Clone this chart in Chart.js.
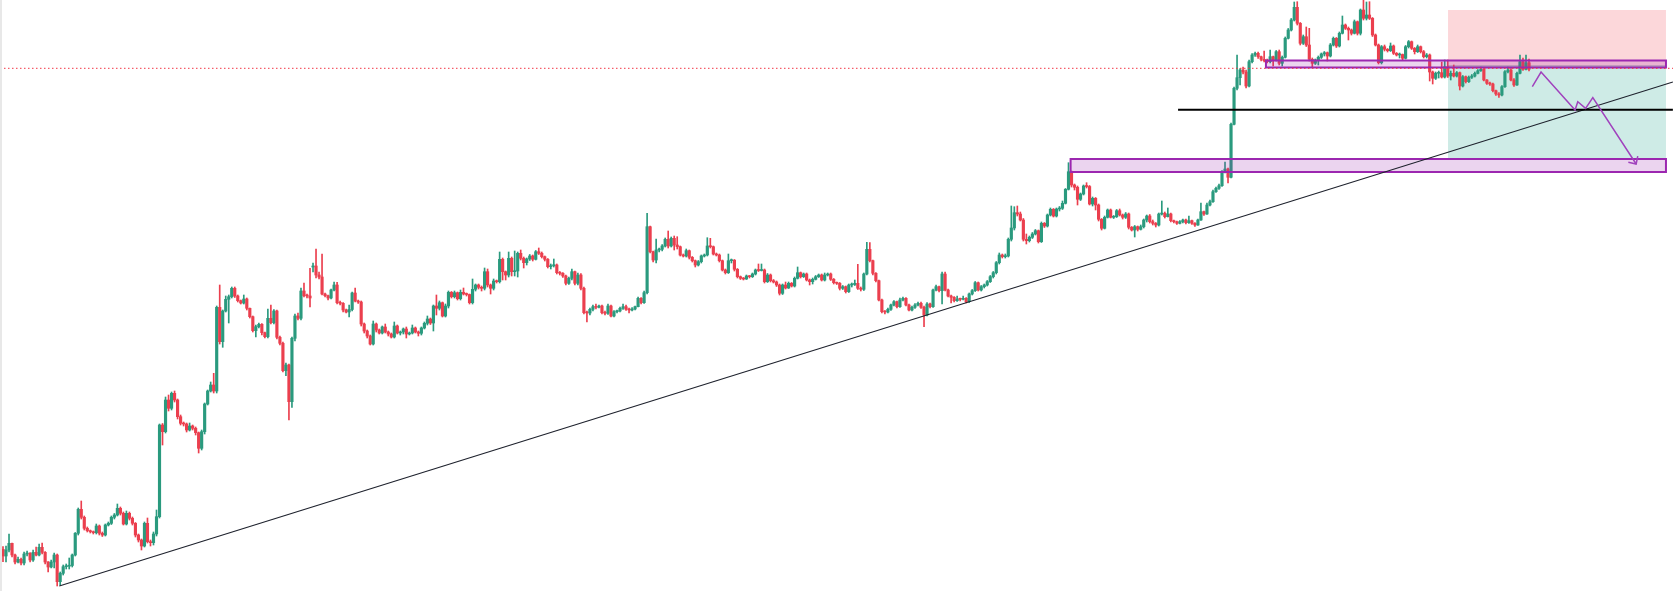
<!DOCTYPE html>
<html>
<head>
<meta charset="utf-8">
<title>Price chart</title>
<script src="https://cdn.jsdelivr.net/npm/chart.js@4.4.1/dist/chart.umd.min.js"></script>
<style>
  html, body { margin: 0; padding: 0; background: #ffffff; }
  #wrap { position: relative; width: 1673px; height: 591px; overflow: hidden; }
  #edge { position: absolute; left: 0; top: 0; width: 2px; height: 591px; background: #e8e8e8; }
</style>
</head>
<body>
<div id="wrap">
  <canvas id="chart"></canvas>
  <div id="edge"></div>
</div>
<script>
// candles, one per bar index (0 = oldest)
const opens = [
  50.7,44,50,56.7,45,38,40.7,37,46,46.7,
  40,47.7,45,52.7,47.7,38,33,38,45,18.3,
  26.7,33.3,33.8,34.5,45,66.7,90.7,82.7,71.7,69.3,
  68.3,67.3,74,66.7,65,75,76.7,82.7,85,91.7,
  86.7,76,86.7,81.7,76.7,65,60,54,76.7,58.3,
  57.3,66,83.3,175,168.3,200,191.7,206.7,200,183.3,
  176.7,176,170,174,171.7,167.3,151.7,168.3,196,209,
  215,209,292.7,258.3,289,300.7,303.3,311.7,304,299.3,
  297,301,291.7,283.3,269.3,273.3,275.7,267.3,263.3,281.7,
  277.3,289,262.7,256.7,229.3,235,198.3,261.7,284,281.7,
  309,304.3,304,333,334,325,323,306,304.3,302,
  310,315,297.3,296.7,290,288,290.5,307,299,298,
  276,269,264,256,276,270,267,273,268,266,
  263,274,267,268,271,266,267,272,268,266.7,
  272,276.7,281,277,294,291.7,297.3,284,294,307.7,
  303.3,307.3,301.3,307.7,306,305.5,297.3,310.7,315,312.7,
  311.7,328.3,315,311.7,319,318.3,340.7,328.3,325,341.7,
  328.3,329,346.7,341.7,337.3,341,344,340.7,348.3,346.7,
  343.3,340.7,333.3,334.3,335,327.3,326.7,324,316.7,321.7,
  328.3,316.7,325,311.7,287.3,287,290.7,293.3,292.7,294,
  287.3,286.7,294,284,288.3,289,291.7,293.3,290.7,290,
  291,293.3,301.7,297.3,307.3,373.3,348.3,340,350,350.7,
  354,360.7,354,361.7,355,353.3,345,344,349.3,342.7,
  339.3,335,338.3,344,345,354,353.3,346,345,339.3,
  330,327.3,339.3,339.8,330.7,323.3,321.7,321,324,323.3,
  326,330,329.5,330,318.3,325,319.3,318,315,306.7,
  315,312,316.7,314,321.7,327.3,323.3,326,320,318.3,
  320.7,323.3,325,320,325,326,320.7,317.3,316.7,311.7,
  313.3,308.3,315,315.5,316.7,311.7,310.7,326,350.7,339.3,
  326.7,319.3,300,288.3,288,290.7,295,298.3,293.3,300,
  301.7,295,290,292.7,295,296.7,292.7,285,296,293.3,
  310,313.3,309.3,326,310,304,302.7,299.3,301,300.7,
  301.7,298.3,306,309.3,317.3,310,313.3,315,318.3,323.3,
  327.3,337.3,345,343.3,344,360.7,372,387.3,386,380,
  360.7,359.3,362.7,366,369.3,358.3,376.7,374,385,390.7,
  384,391,391.7,396.7,410.7,428.3,415,412.7,400.7,406,
  414,413.5,396,401.7,395,380.7,371.7,382.7,390,382.7,
  383.3,389.3,385,382.7,386,372.7,370,373.3,370.7,373.3,
  380,384,378.3,376.7,375,386,386.7,383.3,386,379.3,
  378.3,376.7,378.3,380,377.3,379.3,376.7,375,380,388.3,
  386,395,398.3,408.3,411.7,414.3,428.3,431,422.7,475.7,
  511.7,522.3,530,528,514,538.3,545,546.7,543.3,540.7,
  539.3,538.3,543.3,540,548.3,536.7,542.7,561.7,570,580,
  592.7,576.7,556.7,563.3,555,540.7,536.7,540,542.7,546,
  547.3,544,555,561.7,554,566.7,575,571.7,570,566.7,
  578.3,566.7,590,581.7,585,581.7,565,555,537.3,553.3,
  550.7,549.3,554,546.7,545,545.5,541.7,553.3,558.3,551.7,
  548.3,553.3,548.3,543.3,545,528,521.7,526.7,527.3,523,
  533.3,524,526.7,524,527.3,514,523.3,518.3,522.7,524,
  526.7,529.3,530.7,520,516.7,516,509.3,506,505,513.3,
  528.3,530,520,515,526.7,538.3,530.7,537.3
];

const highs = [
  53.3,54,66,57,46,43,42,48,49,47.5,
  50,53,56,57,48.5,38.5,40,47,46,28,
  35,36,42,46,67.5,92,99,84,73,70,
  69,76,75,68,76,78,84,86.5,96,93,
  88,89,88,83,77.5,66,61,78,82,60,
  68,90,176,176.5,203,205,208,209,201,185,
  178,177,177,175,173,168,170,197,210,218,
  226.7,294,315,290,304,305,313,313,305,300,
  305,302,292,284,275,277,276.5,268,291,295,
  290.5,290,264,258,237,236,263,286,287,312,
  317,306,331.7,337,351,328,346,307,305,311,
  318,317.7,299,297.5,291,295,308,312,300,299,
  277,270,265,279,277,271,274,276,269,267,
  278,275,269,272,273,268,275,273,269,273,
  278,284,282,295,305,299,298,296,309,308.5,
  309,308,310,312,307,306,321,316,316,314,
  332,331,316,321,320,348,342,329,348,343,
  349,348,350,343,342,345.5,345,349.5,352,348,
  344,341.5,336,341,336,328.5,327.5,325,323,331,
  329,327,326.5,313,289,292,295,296,295,295,
  289,296,295,289.5,290,293,296,295,292,292.5,
  294,303,302.5,309,386.7,374,349,361,352,355.5,
  362,369,363,364,363.3,354,346,351,350,343.5,
  340,339.5,345,346,362.3,361.7,354,347,346,340,
  331,346,341,340.5,331.5,324,322.5,325,324.5,327,
  331,336,336,331,326.5,326,320.5,319,316,316,
  318,318,317.5,323,333,328,327,327,321,322,
  324.5,326,326,327,327,327,321.5,318,317.5,314.5,
  314,316,317,320,335.7,313,327,357.7,357.3,340,
  327.5,320,301,289.5,292,296,299.5,299,302,303,
  302.5,296,294,296.5,298,298,294,297.5,297,311,
  315,314,328,328,311,305,303.5,304,302,304,
  302.5,307,310.5,318.5,318,314.5,316,319.5,324.5,328.5,
  338.5,347,346,346,362,394,393.3,394,388,381.5,
  366,364,367.5,370.5,370,378,377.5,386,392,391.5,
  392,393.5,399,411.5,437.3,429,416,414,407,415,
  417.3,414.5,403,402.5,396,381.5,384,391,391,384.5,
  390.5,391,386,387.5,387,373.5,374.5,374,375,381,
  385,385.5,380,377.5,387,399,388,392,387,380,
  379,379.5,381,381,384,380,377.5,381,397,389,
  397,400,410,413,416,429.5,438,432,477,513,
  545,531.5,533,530,540,546.5,548,548,544,549,
  541,550,544,549.5,550,544,563,571.5,581.5,598,
  598.3,577.5,565,573,571.7,542,541,544,547,548.5,
  548,556.5,563,562.5,568,584,576,573,571,580,
  579,591,600,598,598.3,582.5,566,556,554.5,555,
  551.5,557,555,547.5,547,546,554.5,559.5,559,552.5,
  555,554,549.5,546.5,546,529,528,529,538,540,
  540,529,535,528.5,528,524.5,524,524,525.5,528,
  530.5,533,531.5,520.5,518,517,510,507.5,514.5,529.5,
  533,531.5,521.5,528,545,542,545,541
];

const lows = [
  38.3,38,48,43,36,37,35,35,44,38,
  38.5,44,44,46,36,28,32,32,14,15,
  25,31,31,33,44,65,81,70,68,67,
  66,66,65,63.5,64,74,75.5,81,84,85,
  75,75,80,75,63,58,50,53,57,54,
  55,64,82,155,167,189,190,198,181,175,
  174,168,169,170,165,147,150,166,195,208,
  207,207,256,252.7,288,277,302,302.5,298,296,
  296,290,282,268,263,272,265,262,262,276,
  276,261,255,228,224.3,180,192.7,259,280,280,
  303,302,293,328,322,321,305,303,300,301,
  309,296,295,288,287,283,289,298,296.5,274,
  267,262,255,255,268,266,266,267,264,262,
  262,266,265,266,262,265,266,267,264,265,
  271,275,275.5,269,285,290,283,283,292,302,
  302,300,300,305,304,296,296,309,311,309,
  310,313,306,310,317,317,320,320,323,324,
  324,323,340,332,335,339.5,339,340,345.5,342,
  339,332,331,333,326,325,322.5,315,315.5,320,
  315,315,310,286,278,285,289,291,292,286,
  285,285.5,283,283,287,288,290.5,289.5,287,289,
  290,293,296,296.5,306,347,338,337,348,349,
  353,352,353,350,351,344,343,343,341,338,
  333,334,337,343,344,352,345,344,338,329,
  326,326.5,337,329,322,320.5,320,320.5,322,322.5,
  325,328.5,329,317,317.5,318,317,313.5,305,305.5,
  311,311.5,313,313,321,322,322.5,319,315,316,
  320,322.5,319,319,324,319.5,316,315.5,310,310.5,
  307,307.5,313,314.5,310.5,309,309.5,325,338,325,
  318,299,287,286,287,289.5,294,292,292.5,299,
  294,289,289,291.5,294,291.5,273.3,284,292,292.5,
  309,308,296,309,303,297,298,298.5,299,300,
  297,297.5,305,308.5,309,309,312,314,317.5,322,
  326,336,342,342,343,359,370,384,379,359,
  356,358,361.5,365,357,357.5,372.5,373,384,383,
  383,389,390.5,396,410,413,410,395,399.5,405,
  412,395,394,390,379,370,371,382,382,381.5,
  382.5,384,381,381.5,371,369,363,369,370,372,
  378,377,375,373,374,385,382,383,378,377,
  375.5,376,377,376,376.5,375.5,373.5,374.5,379.5,384.5,
  385.5,394,397.5,407.5,410.5,413.5,427,417,422,475,
  510,515,526,512,513,537,543.5,541.5,539,538,
  537,537,534,539,535,534,542,561,569,579,
  575,555,555.5,553.5,539,533,535.5,535,541.5,544,
  539,543,554,552.5,553,566,570.5,560,565,566,
  565,565,580,580,580.5,563.5,554,536,536,549,
  548,548.5,545.5,544,542,540,541,552,550.5,546,
  547.5,547,542,542,519,516,520.5,522,522,522,
  522.5,520,523,523,510,513,517,517.5,521.5,523,
  526,528.5,519,515.5,514.5,508,504.5,502.7,504,512.5,
  527,519,513.5,514.5,526,529.5,530,529
];

const closes = [
  44,50,56.7,45,38,40.7,37,46,46.7,40,
  47.7,45,52.7,47.7,38,33,38,45,18.3,26.7,
  33.3,33.8,34.5,45,66.7,90.7,82.7,71.7,69.3,68.3,
  67.3,74,66.7,65,75,76.7,82.7,85,91.7,86.7,
  76,86.7,81.7,76.7,65,60,54,76.7,58.3,57.3,
  66,83.3,175,168.3,200,191.7,206.7,200,183.3,176.7,
  176,170,174,171.7,167.3,151.7,168.3,196,209,215,
  209,292.7,258.3,289,300.7,303.3,311.7,304,299.3,297,
  301,291.7,283.3,269.3,273.3,275.7,267.3,263.3,281.7,277.3,
  289,262.7,256.7,229.3,235,198.3,261.7,284,281.7,309,
  304.3,304,302,334,325,323,306,304.3,302,310,
  315,297.3,296.7,290,288,290.5,307,299,298,276,
  269,264,256,276,270,267,273,268,266,263,
  274,267,268,271,266,267,272,268,266.7,272,
  276.7,281,277,294,291.7,297.3,284,294,307.7,303.3,
  307.3,301.3,307.7,306,305.5,297.3,310.7,315,312.7,311.7,
  328.3,315,311.7,319,318.3,340.7,328.3,325,341.7,328.3,
  329,346.7,341.7,337.3,341,344,340.7,348.3,346.7,343.3,
  340.7,333.3,334.3,335,327.3,326.7,324,316.7,321.7,328.3,
  316.7,325,311.7,287.3,287,290.7,293.3,292.7,294,287.3,
  286.7,294,284,288.3,289,291.7,293.3,290.7,290,291,
  293.3,301.7,297.3,307.3,373.3,348.3,340,350,350.7,354,
  360.7,354,361.7,355,353.3,345,344,349.3,342.7,339.3,
  335,338.3,344,345,354,353.3,346,345,339.3,330,
  327.3,339.3,339.8,330.7,323.3,321.7,321,324,323.3,326,
  330,329.5,330,318.3,325,319.3,318,315,306.7,315,
  312,316.7,314,321.7,327.3,323.3,326,320,318.3,320.7,
  323.3,325,320,325,326,320.7,317.3,316.7,311.7,313.3,
  308.3,315,315.5,316.7,311.7,310.7,326,350.7,339.3,326.7,
  319.3,300,288.3,288,290.7,295,298.3,293.3,300,301.7,
  295,290,292.7,295,296.7,292.7,285,296,293.3,310,
  313.3,309.3,326,310,304,302.7,299.3,301,300.7,301.7,
  298.3,306,309.3,317.3,310,313.3,315,318.3,323.3,327.3,
  337.3,345,343.3,344,360.7,372,387.3,386,380,360.7,
  359.3,362.7,366,369.3,358.3,376.7,374,385,390.7,384,
  391,391.7,396.7,410.7,428.3,415,412.7,400.7,406,414,
  413.5,396,401.7,395,380.7,371.7,382.7,390,382.7,383.3,
  389.3,385,382.7,386,372.7,370,373.3,370.7,373.3,380,
  384,378.3,376.7,375,386,386.7,383.3,386,379.3,378.3,
  376.7,378.3,380,377.3,379.3,376.7,375,380,388.3,386,
  395,398.3,408.3,411.7,414.3,428.3,431,422.7,475.7,511.7,
  522.3,530,528,514,538.3,545,546.7,543.3,540.7,539.3,
  538.3,543.3,540,548.3,536.7,542.7,561.7,570,580,592.7,
  576.7,556.7,563.3,555,540.7,536.7,540,542.7,546,547.3,
  544,555,561.7,554,566.7,575,571.7,570,566.7,578.3,
  566.7,590,581.7,585,581.7,565,555,537.3,553.3,550.7,
  549.3,554,546.7,545,545.5,541.7,553.3,558.3,551.7,548.3,
  553.3,548.3,543.3,545,528,521.7,526.7,527.3,523,533.3,
  524,526.7,524,527.3,514,523.3,518.3,522.7,524,526.7,
  529.3,530.7,520,516.7,516,509.3,506,505,513.3,528.3,
  530,520,515,526.7,538.3,530.7,537.3,530.7
];

// visible range of the two axes (bar index, price)
const xRange = [-0.997, 554.84];
const yRange = [9, 600];

// drawings on the chart, in bar index / price units
const trendLine = [[18.7, 14], [554.8, 518]];
const supportLevel = [[390.4, 490.3], [554.8, 490.3]];
const zones = [
  [419.6, 552.5, 532.5, 539.5],
  [354.7, 552.5, 428, 441]
];
const stopZone = [480.1, 552.5, 534, 590];
const targetZone = [480.1, 552.5, 441, 534];
const entryPrice = 534;
const lastPrice = 531.7;
const projection = [[508.1, 513.3], [511, 528], [522.3, 490], [523.2, 498.3], [525.8, 491.7], [528.2, 502.3], [542.6, 436]];

const UP = '#2a9a7e';
const DOWN = '#eb3f4e';
const candleColor = (c) => (closes[c.dataIndex] >= opens[c.dataIndex] ? UP : DOWN);

const bodies = closes.map((c, i) => ({ x: i, y: [opens[i], c] }));
const wicks = closes.map((c, i) => ({ x: i, y: [lows[i], highs[i]] }));

const drawings = {
  id: 'drawings',
  beforeDatasetsDraw(chart) {
    const { ctx, scales: { x, y } } = chart;
    const fillZone = (z, color) => {
      const x0 = x.getPixelForValue(z[0]);
      const x1 = x.getPixelForValue(z[1]);
      const y0 = y.getPixelForValue(z[3]);
      const y1 = y.getPixelForValue(z[2]);
      ctx.fillStyle = color;
      ctx.fillRect(x0, y0, x1 - x0, y1 - y0);
    };
    ctx.save();
    fillZone(stopZone, 'rgba(242,54,69,0.2)');
    fillZone(targetZone, 'rgba(8,153,129,0.2)');
    ctx.strokeStyle = '#9598a1';
    ctx.lineWidth = 1;
    ctx.beginPath();
    ctx.moveTo(x.getPixelForValue(stopZone[0]), y.getPixelForValue(entryPrice));
    ctx.lineTo(x.getPixelForValue(stopZone[1]), y.getPixelForValue(entryPrice));
    ctx.stroke();
    ctx.restore();
  },
  afterDatasetsDraw(chart) {
    const { ctx, scales: { x, y } } = chart;
    const line = (pts) => {
      ctx.beginPath();
      pts.forEach((p, k) => {
        const px = x.getPixelForValue(p[0]);
        const py = y.getPixelForValue(p[1]);
        if (k === 0) ctx.moveTo(px, py); else ctx.lineTo(px, py);
      });
      ctx.stroke();
    };
    ctx.save();

    // purple zones
    zones.forEach((z) => {
      const x0 = x.getPixelForValue(z[0]);
      const x1 = x.getPixelForValue(z[1]);
      const y0 = y.getPixelForValue(z[3]);
      const y1 = y.getPixelForValue(z[2]);
      ctx.fillStyle = 'rgba(156,39,176,0.2)';
      ctx.fillRect(x0, y0, x1 - x0, y1 - y0);
      ctx.strokeStyle = '#9c27b0';
      ctx.lineWidth = 2;
      ctx.strokeRect(x0, y0, x1 - x0, y1 - y0);
    });

    // last price line
    ctx.strokeStyle = '#f23645';
    ctx.lineWidth = 1;
    ctx.setLineDash([1.5, 2.5]);
    line([[xRange[0], lastPrice], [xRange[1], lastPrice]]);
    ctx.setLineDash([]);

    // trend line and level
    ctx.strokeStyle = '#1e222d';
    ctx.lineWidth = 1.2;
    line(trendLine);
    ctx.strokeStyle = '#000000';
    ctx.lineWidth = 2;
    line(supportLevel);

    // projected path with arrow head
    ctx.strokeStyle = '#a042bd';
    ctx.lineWidth = 1.5;
    ctx.lineJoin = 'miter';
    line(projection);
    const a = projection[projection.length - 2];
    const b = projection[projection.length - 1];
    const ax = x.getPixelForValue(a[0]), ay = y.getPixelForValue(a[1]);
    const bx = x.getPixelForValue(b[0]), by = y.getPixelForValue(b[1]);
    const ang = Math.atan2(ay - by, ax - bx);
    ctx.beginPath();
    ctx.moveTo(bx + 8 * Math.cos(ang - 0.78), by + 8 * Math.sin(ang - 0.78));
    ctx.lineTo(bx, by);
    ctx.lineTo(bx + 8 * Math.cos(ang + 0.78), by + 8 * Math.sin(ang + 0.78));
    ctx.stroke();

    ctx.restore();
  }
};

new Chart(document.getElementById('chart'), {
  type: 'bar',
  data: {
    datasets: [
      { label: 'wick', data: wicks, backgroundColor: candleColor, barThickness: 1, grouped: false, order: 2 },
      { label: 'body', data: bodies, backgroundColor: candleColor, barThickness: 2.5, minBarLength: 1, grouped: false, order: 1 }
    ]
  },
  options: {
    responsive: true,
    maintainAspectRatio: false,
    animation: false,
    events: [],
    layout: { padding: 0 },
    plugins: { legend: { display: false }, tooltip: { enabled: false } },
    scales: {
      x: { type: 'linear', min: xRange[0], max: xRange[1], offset: false, display: false },
      y: { type: 'linear', min: yRange[0], max: yRange[1], display: false }
    }
  },
  plugins: [drawings]
});
</script>
</body>
</html>
